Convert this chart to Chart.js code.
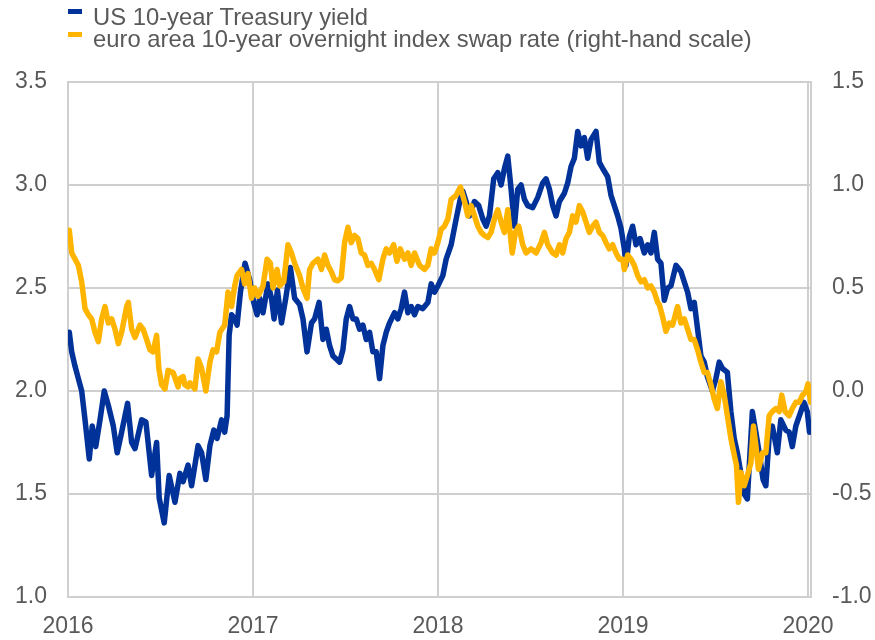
<!DOCTYPE html>
<html>
<head>
<meta charset="utf-8">
<script src="https://cdn.jsdelivr.net/npm/chart.js@4.4.1/dist/chart.umd.min.js"></script>
<style>
  html, body { margin: 0; padding: 0; background: #ffffff; }
  #wrap { position: relative; width: 875px; height: 640px; }
  #c { position: absolute; left: 0; top: 0; }
  .lg { position: absolute; left: 93px; font-family: 'Liberation Sans', Arial, sans-serif; font-size: 23.8px; line-height: 24px; color: #595959; white-space: nowrap; }
  .mk { position: absolute; left: 68px; width: 14px; height: 5px; }
</style>
</head>
<body>
<div id="wrap">
  <canvas id="c" width="875" height="640"></canvas>
  <div class="mk" style="top:9px;background:#003299"></div>
  <div class="lg" style="top:5px">US 10-year Treasury yield</div>
  <div class="mk" style="top:32px;background:#ffb400"></div>
  <div class="lg" style="top:27px">euro area 10-year overnight index swap rate (right-hand scale)</div>
</div>
<script>
// x values: years elapsed since 1 Jan 2016
const yearLabels = ['2016', '2017', '2018', '2019', '2020'];
const seriesNames = ['US 10-year Treasury yield', 'euro area 10-year overnight index swap rate (right-hand scale)'];

const usT = [
0.007,0.020,0.038,0.056,0.074,0.092,0.115,0.131,0.150,0.173,
0.196,0.218,0.245,0.266,0.290,0.322,0.344,0.362,0.398,0.421,
0.452,0.479,0.493,0.520,0.547,0.578,0.605,0.622,0.649,0.668,
0.703,0.722,0.745,0.767,0.788,0.806,0.830,0.847,0.860,0.871,
0.884,0.901,0.914,0.932,0.957,0.982,1.004,1.022,1.036,1.054,
1.081,1.100,1.114,1.132,1.154,1.177,1.202,1.225,1.252,1.270,
1.292,1.316,1.333,1.357,1.378,1.396,1.414,1.432,1.450,1.468,
1.486,1.504,1.522,1.540,1.558,1.576,1.594,1.612,1.630,1.648,
1.666,1.684,1.702,1.720,1.738,1.765,1.783,1.801,1.819,1.837,
1.855,1.873,1.891,1.918,1.945,1.963,1.981,1.999,2.026,2.044,
2.071,2.098,2.120,2.134,2.152,2.170,2.197,2.220,2.242,2.260,
2.278,2.301,2.323,2.341,2.359,2.377,2.395,2.413,2.431,2.449,
2.467,2.485,2.512,2.539,2.566,2.584,2.602,2.620,2.638,2.656,
2.683,2.701,2.719,2.737,2.755,2.773,2.791,2.809,2.827,2.854,
2.872,2.890,2.917,2.935,2.953,2.971,2.989,3.007,3.016,3.034,
3.052,3.070,3.092,3.115,3.133,3.151,3.169,3.187,3.205,3.223,
3.241,3.259,3.286,3.313,3.331,3.349,3.367,3.385,3.403,3.421,
3.439,3.456,3.483,3.502,3.520,3.537,3.564,3.583,3.601,3.618,
3.637,3.655,3.672,3.699,3.718,3.736,3.757,3.772,3.790,3.807,
3.834,3.853,3.880,3.898,3.915,3.934,3.961,3.978,3.996,4.008,
4.015];
const usYield = [
2.285,2.19,2.12,2.06,2.00,1.86,1.67,1.83,1.73,1.86,
2.00,1.93,1.83,1.70,1.80,1.94,1.75,1.72,1.86,1.85,
1.59,1.75,1.48,1.36,1.59,1.46,1.60,1.56,1.64,1.54,
1.735,1.70,1.57,1.735,1.81,1.77,1.86,1.80,1.88,2.27,
2.37,2.35,2.32,2.48,2.62,2.54,2.43,2.37,2.45,2.38,
2.52,2.45,2.35,2.49,2.33,2.45,2.60,2.45,2.42,2.35,
2.19,2.33,2.35,2.43,2.25,2.30,2.22,2.17,2.155,2.14,
2.20,2.35,2.41,2.35,2.35,2.30,2.32,2.25,2.285,2.19,
2.19,2.06,2.22,2.285,2.33,2.38,2.35,2.40,2.48,2.38,
2.41,2.37,2.41,2.40,2.43,2.52,2.48,2.51,2.56,2.64,
2.71,2.835,2.93,2.97,2.92,2.85,2.92,2.90,2.835,2.80,
2.85,3.03,3.06,3.00,3.08,3.14,2.98,2.80,2.98,3.00,
2.93,2.90,2.89,2.94,3.01,3.03,2.98,2.90,2.85,2.92,
2.96,3.01,3.09,3.13,3.26,3.19,3.23,3.13,3.22,3.26,
3.11,3.08,3.04,2.95,2.90,2.85,2.79,2.69,2.61,2.75,
2.80,2.71,2.74,2.67,2.71,2.67,2.77,2.64,2.62,2.44,
2.50,2.51,2.61,2.58,2.53,2.48,2.40,2.43,2.30,2.17,
2.14,2.07,2.00,2.06,2.14,2.11,2.09,1.90,1.77,1.70,
1.60,1.50,1.476,1.90,1.80,1.70,1.57,1.54,1.78,1.83,
1.70,1.86,1.81,1.80,1.73,1.83,1.90,1.945,1.90,1.80,
1.82];

const euT = [
0.007,0.020,0.038,0.056,0.074,0.092,0.110,0.128,0.146,0.164,
0.182,0.200,0.218,0.236,0.254,0.272,0.290,0.317,0.326,0.344,
0.362,0.389,0.406,0.425,0.443,0.460,0.479,0.491,0.506,0.524,
0.541,0.568,0.595,0.605,0.622,0.632,0.649,0.659,0.686,0.703,
0.722,0.745,0.767,0.784,0.803,0.821,0.847,0.865,0.884,0.901,
0.914,0.938,0.955,0.973,0.992,1.009,1.027,1.054,1.076,1.094,
1.108,1.130,1.144,1.166,1.189,1.208,1.225,1.252,1.270,1.292,
1.306,1.324,1.351,1.370,1.387,1.405,1.423,1.441,1.459,1.477,
1.495,1.513,1.531,1.549,1.567,1.585,1.603,1.621,1.639,1.657,
1.680,1.702,1.720,1.738,1.760,1.778,1.796,1.819,1.837,1.855,
1.873,1.900,1.927,1.945,1.963,1.981,1.999,2.017,2.035,2.053,
2.071,2.098,2.121,2.143,2.161,2.179,2.197,2.215,2.233,2.251,
2.269,2.287,2.305,2.323,2.341,2.359,2.377,2.401,2.418,2.436,
2.458,2.476,2.503,2.530,2.557,2.575,2.593,2.620,2.638,2.656,
2.674,2.692,2.710,2.728,2.746,2.764,2.782,2.800,2.818,2.836,
2.854,2.872,2.890,2.908,2.926,2.944,2.962,2.980,2.998,3.007,
3.025,3.043,3.061,3.079,3.097,3.115,3.133,3.151,3.169,3.187,
3.196,3.214,3.232,3.250,3.268,3.295,3.313,3.331,3.349,3.367,
3.385,3.403,3.421,3.439,3.456,3.475,3.493,3.510,3.529,3.547,
3.564,3.583,3.601,3.613,3.624,3.637,3.655,3.672,3.691,3.705,
3.718,3.732,3.754,3.772,3.790,3.807,3.826,3.844,3.858,3.876,
3.898,3.915,3.934,3.952,3.970,3.988,4.000,4.015];
const euOis = [
0.78,0.67,0.64,0.61,0.53,0.40,0.37,0.35,0.285,0.24,
0.35,0.41,0.33,0.35,0.30,0.23,0.285,0.41,0.43,0.30,
0.26,0.32,0.30,0.25,0.20,0.19,0.27,0.11,0.03,0.01,
0.10,0.09,0.02,0.06,0.07,0.03,0.02,0.04,0.01,0.155,
0.11,0.00,0.14,0.20,0.19,0.285,0.32,0.48,0.41,0.51,
0.56,0.59,0.52,0.57,0.45,0.50,0.46,0.51,0.64,0.62,
0.50,0.59,0.51,0.53,0.71,0.67,0.62,0.56,0.50,0.45,
0.59,0.62,0.64,0.59,0.66,0.61,0.58,0.54,0.535,0.55,
0.72,0.795,0.72,0.755,0.74,0.67,0.66,0.61,0.62,0.59,
0.54,0.64,0.69,0.67,0.71,0.63,0.69,0.64,0.67,0.61,
0.67,0.61,0.59,0.61,0.69,0.67,0.72,0.785,0.80,0.835,
0.93,0.95,0.99,0.92,0.85,0.90,0.85,0.80,0.77,0.755,
0.745,0.77,0.835,0.88,0.82,0.77,0.88,0.67,0.77,0.80,
0.71,0.67,0.69,0.67,0.72,0.77,0.71,0.67,0.66,0.71,
0.67,0.74,0.77,0.85,0.82,0.90,0.87,0.82,0.77,0.80,
0.82,0.77,0.755,0.72,0.69,0.71,0.67,0.64,0.64,0.59,
0.66,0.64,0.61,0.56,0.53,0.54,0.50,0.51,0.48,0.43,
0.42,0.36,0.29,0.33,0.32,0.41,0.33,0.35,0.30,0.25,
0.25,0.20,0.14,0.09,0.09,0.03,-0.04,-0.085,0.045,-0.02,
-0.12,-0.23,-0.31,-0.36,-0.54,-0.395,-0.46,-0.41,-0.35,-0.17,
-0.265,-0.38,-0.30,-0.30,-0.12,-0.10,-0.085,-0.10,-0.02,-0.10,
-0.12,-0.085,-0.055,-0.055,-0.02,-0.005,0.035,-0.055];

function pairs(xs, ys) {
  const n = Math.min(xs.length, ys.length);
  const out = [];
  for (let i = 0; i < n; i++) out.push({ x: xs[i], y: ys[i] });
  return out;
}

const FONT = "'Liberation Sans', Arial, sans-serif";
const TXT = '#595959';
const GRID = '#cfcfcf';

new Chart(document.getElementById('c'), {
  type: 'line',
  data: {
    datasets: [
      {
        label: seriesNames[1],
        data: pairs(euT, euOis),
        yAxisID: 'y2',
        borderColor: '#ffb400',
        backgroundColor: '#ffb400',
        borderWidth: 5.5,
        pointRadius: 0,
        tension: 0,
        borderJoinStyle: 'round',
        borderCapStyle: 'round',
        order: 0
      },
      {
        label: seriesNames[0],
        data: pairs(usT, usYield),
        yAxisID: 'y',
        borderColor: '#003299',
        backgroundColor: '#003299',
        borderWidth: 5.5,
        pointRadius: 0,
        tension: 0,
        borderJoinStyle: 'round',
        borderCapStyle: 'round',
        order: 1
      }
    ]
  },
  options: {
    responsive: false,
    animation: false,
    layout: { padding: { top: 82, left: 0, right: 0, bottom: 0 } },
    plugins: { legend: { display: false }, tooltip: { enabled: false } },
    scales: {
      x: {
        type: 'linear',
        min: 0,
        max: 4.016,
        afterFit: s => { s.height = 43; },
        ticks: {
          stepSize: 1,
          includeBounds: false,
          autoSkip: false,
          maxRotation: 0,
          padding: 16,
          color: TXT,
          font: { family: FONT, size: 23 },
          callback: v => yearLabels[Math.round(v)] || ''
        },
        grid: { color: GRID, lineWidth: 2, drawTicks: false },
        border: { color: GRID, width: 2 }
      },
      y: {
        position: 'left',
        min: 1.0,
        max: 3.5,
        afterFit: s => { s.width = 68; },
        ticks: {
          stepSize: 0.5,
          padding: 21,
          color: TXT,
          font: { family: FONT, size: 23 },
          callback: v => Number(v).toFixed(1)
        },
        grid: { color: GRID, lineWidth: 2, drawTicks: false },
        border: { color: GRID, width: 2 }
      },
      y2: {
        position: 'right',
        min: -1.0,
        max: 1.5,
        afterFit: s => { s.width = 64; },
        ticks: {
          stepSize: 0.5,
          padding: 21,
          color: TXT,
          font: { family: FONT, size: 23 },
          callback: v => Number(v).toFixed(1)
        },
        grid: { display: false, drawTicks: false },
        border: { color: GRID, width: 2 }
      }
    }
  }
});
</script>
</body>
</html>
